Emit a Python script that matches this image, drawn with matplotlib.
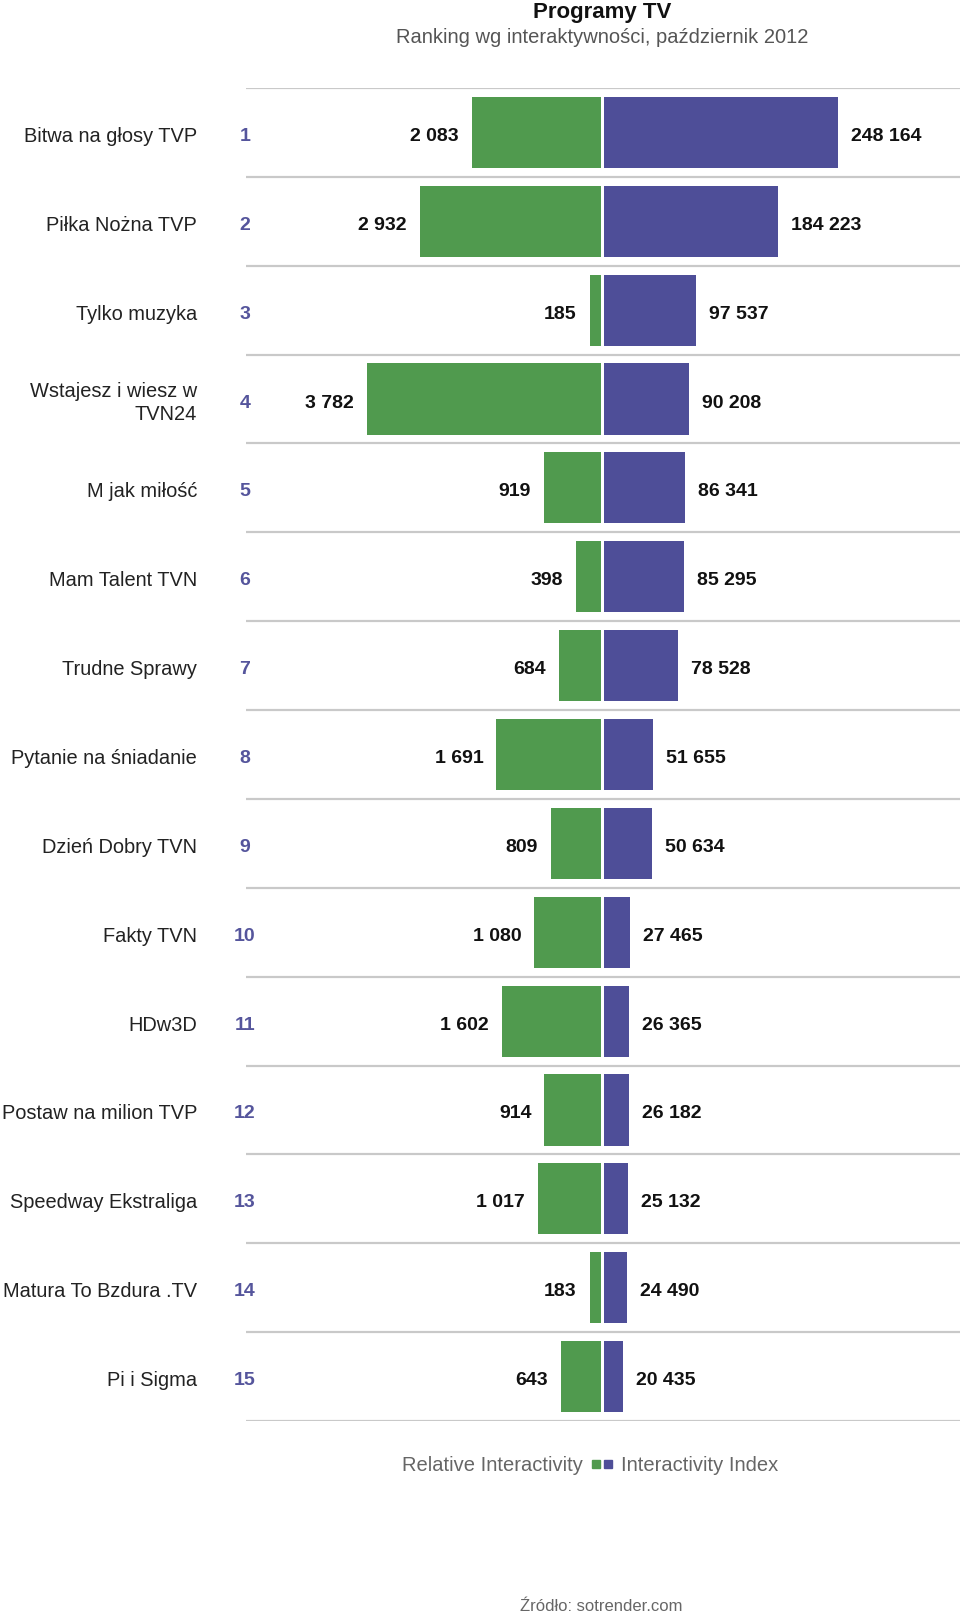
import matplotlib
matplotlib.use("Agg")
import matplotlib.pyplot as plt
from matplotlib.transforms import blended_transform_factory
from matplotlib.patches import Rectangle

plt.rcParams['font.family'] = ['Liberation Sans', 'DejaVu Sans']

names = ["Bitwa na głosy TVP", "Piłka Nożna TVP", "Tylko muzyka", "Wstajesz i wiesz w\nTVN24",
         "M jak miłość", "Mam Talent TVN", "Trudne Sprawy", "Pytanie na śniadanie",
         "Dzień Dobry TVN", "Fakty TVN", "HDw3D", "Postaw na milion TVP",
         "Speedway Ekstraliga", "Matura To Bzdura .TV", "Pi i Sigma"]
ranks = list(range(1, 16))
relative = [2083, 2932, 185, 3782, 919, 398, 684, 1691, 809, 1080, 1602, 914, 1017, 183, 643]
index = [248164, 184223, 97537, 90208, 86341, 85295, 78528, 51655, 50634, 27465,
         26365, 26182, 25132, 24490, 20435]

GREEN = "#509A4E"
BLUE = "#4E4E98"
RANKC = "#55559C"
W, H = 960, 1615
fig = plt.figure(figsize=(W / 100, H / 100), dpi=100)

def fx(px):
    return px / W

def fy(py):
    return 1 - py / H

top_px, bot_px = 89, 1422
n = len(names)
ylim = (n - 0.5, -0.5)

def make_ax(l, r):
    ax = fig.add_axes([fx(l), fy(bot_px), fx(r - l), (bot_px - top_px) / H])
    ax.set_ylim(*ylim)
    ax.axis("off")
    return ax

ax_lines = make_ax(246, 960)
ax_lines.set_xlim(0, 1)
for k in range(n + 1):
    ax_lines.axhline(k - 0.5, color="#c9c9c9", lw=1.6)

ax_g = make_ax(246, 601)
ax_g.set_xlim(max(relative) * 355 / 234, 0)
ax_b = make_ax(604, 960)
ax_b.set_xlim(0, max(index) * 356 / 234)

ys = list(range(n))
ax_g.barh(ys, relative, height=0.8, color=GREEN, linewidth=0)
ax_b.barh(ys, index, height=0.8, color=BLUE, linewidth=0)

def fmt(v):
    return f"{v:,}".replace(",", " ")

for y, g, b in zip(ys, relative, index):
    ax_g.annotate(fmt(g), (g, y), xytext=(-13, -3), textcoords="offset pixels",
                  ha="right", va="center", fontsize=14, fontweight="bold", color="#111111")
    ax_b.annotate(fmt(b), (b, y), xytext=(13, -3), textcoords="offset pixels",
                  ha="left", va="center", fontsize=14, fontweight="bold", color="#111111")

tr = blended_transform_factory(fig.transFigure, ax_lines.transData)
for y, nm, rk in zip(ys, names, ranks):
    ax_lines.annotate(nm, (fx(197), y), xycoords=tr, xytext=(0, -3), textcoords="offset pixels",
                      ha="right", va="center", fontsize=14.4, color="#222222",
                      multialignment="right", linespacing=1.3)
    ax_lines.annotate(str(rk), (fx(245), y), xycoords=tr, xytext=(0, -3),
                      textcoords="offset pixels", ha="center", va="center", fontsize=14,
                      fontweight="bold", color=RANKC)

fig.text(fx(602), fy(18), "Programy TV", ha="center", va="baseline", fontsize=16,
         fontweight="bold", color="#111111")
fig.text(fx(602), fy(43), "Ranking wg interaktywności, październik 2012", ha="center",
         va="baseline", fontsize=14.5, color="#555555")

# legend
ly = 1466
fig.text(fx(583), fy(ly), "Relative Interactivity", ha="right", va="center",
         fontsize=14.5, color="#666666")
fig.text(fx(621), fy(ly), "Interactivity Index", ha="left", va="center",
         fontsize=14.5, color="#666666")
for x0, c in ((592, GREEN), (604, BLUE)):
    fig.patches.append(Rectangle((fx(x0), fy(ly + 3)), fx(8), 8 / H, color=c,
                                 transform=fig.transFigure, figure=fig))

fig.text(fx(601), fy(1611), "Źródło: sotrender.com", ha="center", va="baseline",
         fontsize=12, color="#666666")

fig.savefig("out.png", dpi=100, facecolor="white")
